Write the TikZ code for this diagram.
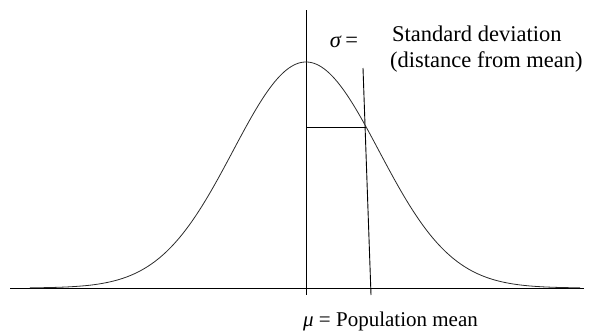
\documentclass[tikz,border=0pt]{standalone}
\usepackage{fontspec}
\setmainfont{Liberation Serif}
\newcommand{\LabelFont}{\fontsize{22.5}{26}\selectfont}
\newcommand{\AxisFont}{\fontsize{21}{25}\selectfont}
\usepackage{tikz}
\definecolor{curveblack}{HTML}{2B2B2B}

\begin{document}
\begin{tikzpicture}[x=1pt,y=-1pt,text=black,
  thinline/.style={draw=black,line width=.9pt,line cap=butt},
  bellcurve/.style={draw=curveblack,line width=.8pt,smooth},
  label/.style={font=\LabelFont,inner sep=0pt}]
  \useasboundingbox (0,0) rectangle (592,335);
  % reference points
  \coordinate (axisleft) at (10,288);
  \coordinate (axisright) at (584,288);
  \coordinate (mutop) at (306,10);
  \coordinate (mubot) at (306,295);
  \coordinate (sigtop) at (363,68);
  \coordinate (sigbot) at (371,295);
  \coordinate (sigstart) at (306,127);
  \coordinate (sigend) at (366,127);
  % axis and lines
  \draw[thinline] (axisleft) -- (axisright);
  \draw[thinline] (mutop) -- (mubot);
  \draw[thinline] (sigtop) -- (sigbot);
  \draw[thinline] (sigstart) -- (sigend);
  % normal curve
  \draw[bellcurve] plot[domain=30:580,samples=120] (\x,{288-226*exp(-0.5*((\x-306)/73)^2)});
  % labels
  \node[label,anchor=base] (sigma) at (344,47) {\textit{σ}\,=};
  \node[label,anchor=base west] (stdline) at (392,41) {Standard deviation};
  \node[label,anchor=base west] (distline) at (390,67) {(distance from mean)};
  \node[label,font=\AxisFont,anchor=base west] (mulabel) at (303,326) {\textit{μ} = Population mean};
\end{tikzpicture}
\end{document}
